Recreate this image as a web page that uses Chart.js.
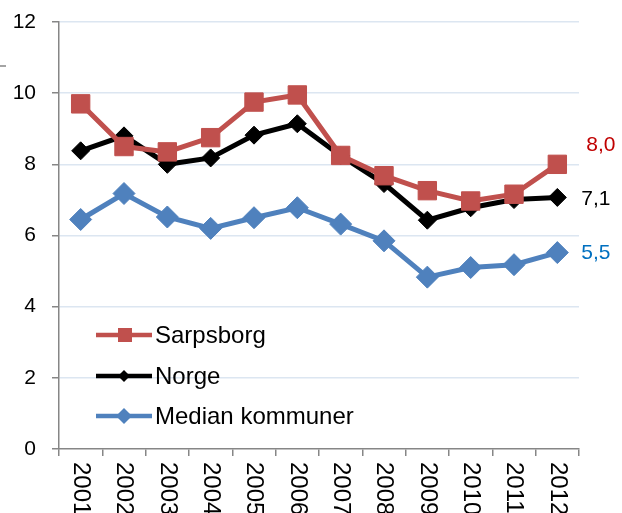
<!DOCTYPE html>
<html>
<head>
<meta charset="utf-8">
<script src="https://cdn.jsdelivr.net/npm/chart.js@4"></script>
<style>
  body { margin: 0; background: #fff; }
  canvas { display: block; }
</style>
</head>
<body>
<canvas id="trendChart" width="622" height="513"></canvas>
<script>
let years = ['2001', '2002', '2003', '2004', '2005', '2006', '2007', '2008', '2009', '2010', '2011', '2012'];
let sarpsborg = [9.7, 8.5, 8.35, 8.75, 9.75, 9.95, 8.25, 7.68, 7.26, 6.97, 7.16, 8.0];
let norge = [8.38, 8.8, 8.0, 8.18, 8.82, 9.14, 8.24, 7.46, 6.43, 6.78, 7.01, 7.07];
let median = [6.45, 7.18, 6.52, 6.2, 6.5, 6.78, 6.32, 5.85, 4.83, 5.1, 5.18, 5.52];
let yTicks = [0, 2, 4, 6, 8, 10, 12];

let axisGray = '#868686';
let gridBlue = '#dce6f1';
let fontName = '"Liberation Sans", Arial, sans-serif';

Chart.defaults.font.family = fontName;

// end-of-line value labels, colour per series
let endLabels = [
  { color: '#c00000', dx: 29, dy: -19 },
  { color: '#000000', dx: 24, dy: 2 },
  { color: '#0070c0', dx: 24, dy: 1 }
];

function fmt(v) {
  return v.toFixed(1).replace('.', ',');
}

// legend, year labels and value labels drawn on top of the chart
let overlay = {
  id: 'overlay',
  afterDraw(chart) {
    let ctx = chart.ctx;
    let x = chart.scales.x;
    let y = chart.scales.y;
    ctx.save();

    // small stray dash at left edge
    ctx.strokeStyle = axisGray;
    ctx.lineWidth = 1.5;
    ctx.beginPath();
    ctx.moveTo(0, 66);
    ctx.lineTo(6, 66);
    ctx.stroke();

    // rotated year labels, reading downwards
    ctx.fillStyle = '#000';
    ctx.font = '24px ' + fontName;
    ctx.textAlign = 'left';
    ctx.textBaseline = 'middle';
    for (let i = 0; i < years.length; i++) {
      ctx.save();
      ctx.translate(x.getPixelForValue(i), 462);
      ctx.rotate(Math.PI / 2);
      ctx.fillText(years[i], 0, 0);
      ctx.restore();
    }

    // value labels at the last point
    ctx.font = '21px ' + fontName;
    chart.data.datasets.forEach(function (ds, i) {
      let last = ds.data.length - 1;
      let px = x.getPixelForValue(last);
      let py = y.getPixelForValue(ds.data[last]);
      ctx.fillStyle = endLabels[i].color;
      ctx.fillText(fmt(ds.data[last]), px + endLabels[i].dx, py + endLabels[i].dy);
    });

    // legend
    ctx.font = '24px ' + fontName;
    let rows = [335, 376, 416];
    chart.data.datasets.forEach(function (ds, i) {
      let ly = rows[i];
      ctx.strokeStyle = ds.borderColor;
      ctx.lineWidth = 4.5;
      ctx.beginPath();
      ctx.moveTo(96, ly);
      ctx.lineTo(152, ly);
      ctx.stroke();
      ctx.fillStyle = ds.borderColor;
      ctx.beginPath();
      if (ds.pointStyle === 'rect') {
        ctx.rect(118, ly - 7, 14, 14);
      } else {
        let r = i === 1 ? 6 : 8;
        ctx.moveTo(124, ly - r);
        ctx.lineTo(124 + r, ly);
        ctx.lineTo(124, ly + r);
        ctx.lineTo(124 - r, ly);
        ctx.closePath();
      }
      ctx.fill();
      ctx.fillStyle = '#000';
      ctx.fillText(ds.label, 155, ly + 1);
    });

    ctx.restore();
  }
};

let chart = new Chart(document.querySelector('#trendChart'), {
  type: 'line',
  data: {
    labels: years,
    datasets: [
      {
        label: 'Sarpsborg',
        data: sarpsborg,
        borderColor: '#c0504d',
        backgroundColor: '#c0504d',
        borderWidth: 5,
        pointStyle: 'rect',
        pointRadius: 13,
        pointBorderWidth: 1
      },
      {
        label: 'Norge',
        data: norge,
        borderColor: '#000000',
        backgroundColor: '#000000',
        borderWidth: 5,
        pointStyle: 'rectRot',
        pointRadius: 9,
        pointBorderWidth: 1
      },
      {
        label: 'Median kommuner',
        data: median,
        borderColor: '#4f81bd',
        backgroundColor: '#4f81bd',
        borderWidth: 5,
        pointStyle: 'rectRot',
        pointRadius: 11,
        pointBorderWidth: 1
      }
    ]
  },
  options: {
    responsive: false,
    animation: false,
    layout: { padding: { top: 22, right: 43, bottom: 0, left: 0 } },
    plugins: {
      legend: { display: false },
      tooltip: { enabled: false }
    },
    scales: {
      x: {
        offset: true,
        grid: {
          offset: true,
          drawOnChartArea: false,
          drawTicks: true,
          tickLength: 7,
          color: axisGray,
          lineWidth: 1.5
        },
        border: { color: axisGray, width: 1.5 },
        ticks: { display: false },
        afterFit(scale) {
          scale.height = 64;
          scale.paddingLeft = 0;
          scale.paddingRight = 0;
        }
      },
      y: {
        min: 0,
        max: 12,
        afterBuildTicks(scale) {
          scale.ticks = yTicks.map(function (v) { return { value: v }; });
        },
        grid: {
          color: function (c) { return c.tick && c.tick.value === 0 ? 'rgba(0,0,0,0)' : gridBlue; },
          tickColor: axisGray,
          lineWidth: 1.5,
          tickLength: 7
        },
        border: { color: axisGray, width: 1.5 },
        ticks: {
          color: '#000',
          font: { size: 21 },
          padding: 16
        },
        afterFit(scale) {
          scale.width = 59;
          scale.paddingTop = 0;
          scale.paddingBottom = 0;
        }
      }
    }
  },
  plugins: [overlay]
});
</script>
</body>
</html>
